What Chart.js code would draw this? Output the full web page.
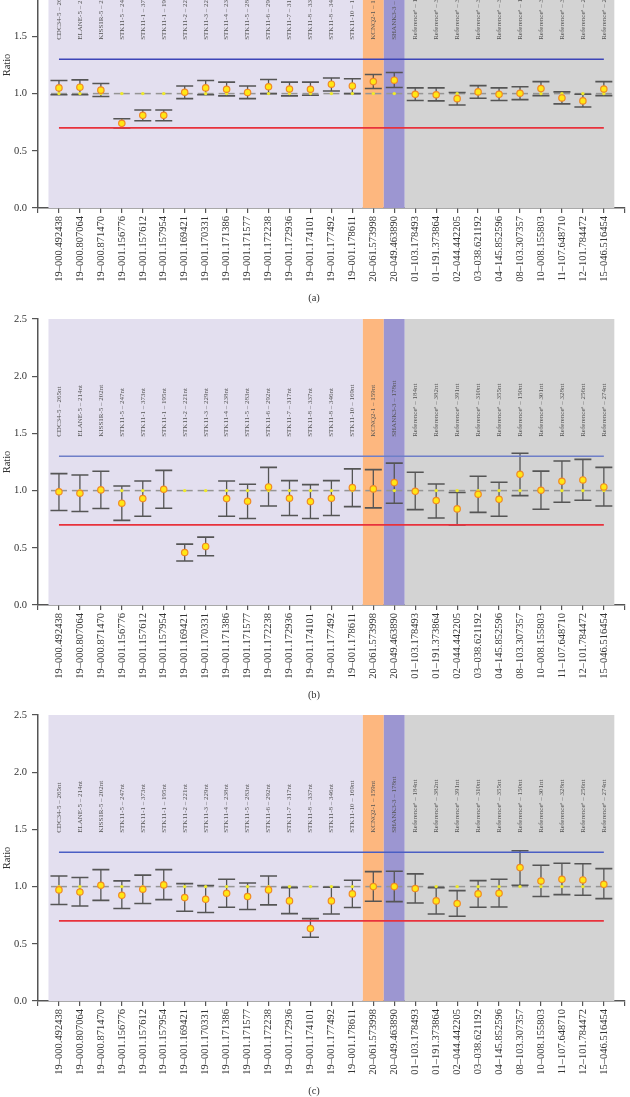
<!DOCTYPE html>
<html><head><meta charset="utf-8">
<script src="https://cdn.jsdelivr.net/npm/chart.js@4.4.0/dist/chart.umd.min.js"></script>
<style>
html,body{margin:0;padding:0;background:#fff;width:630px;height:1097px;overflow:hidden;position:relative;}
.panel{position:absolute;left:0;width:630px;}
.cap{position:absolute;font:10.5px "Liberation Serif",serif;color:#333;width:40px;text-align:center;margin-left:-20px;line-height:12px;}
</style></head><body>
<div class="panel" style="top:-90px"><canvas id="ca" width="630" height="386"></canvas></div>
<div class="panel" style="top:307px"><canvas id="cb" width="630" height="386"></canvas></div>
<div class="panel" style="top:703px"><canvas id="cc" width="630" height="386"></canvas></div>
<div class="cap" style="left:314px;top:292px">(a)</div>
<div class="cap" style="left:314px;top:689px">(b)</div>
<div class="cap" style="left:314px;top:1085px">(c)</div>
<script>
const categories = ['19–000.492438','19–000.807064','19–000.871470','19–001.156776','19–001.157612','19–001.157954','19–001.169421','19–001.170331','19–001.171386','19–001.171577','19–001.172238','19–001.172936','19–001.174101','19–001.177492','19–001.178611','20–061.573998','20–049.463890','01–103.178493','01–191.373864','02–044.442205','03–038.621192','04–145.852596','08–103.307357','10–008.155803','11–107.648710','12–101.784472','15–046.516454'];
const probeLabels = ['CDC34-5 – 265nt','ELANE-5 – 214nt','KISS1R-5 – 202nt','STK11-5 – 247nt','STK11-1 – 373nt','STK11-1 – 195nt','STK11-2 – 221nt','STK11-3 – 229nt','STK11-4 – 238nt','STK11-5 – 283nt','STK11-6 – 292nt','STK11-7 – 317nt','STK11-8 – 337nt','STK11-8 – 346nt','STK11-10 – 169nt','KCNQ2-1 – 159nt','SHANK3-3 – 178nt','Referenceᵃ – 184nt','Referenceᵃ – 382nt','Referenceᵃ – 391nt','Referenceᵃ – 310nt','Referenceᵃ – 355nt','Referenceᵃ – 150nt','Referenceᵃ – 301nt','Referenceᵃ – 328nt','Referenceᵃ – 256nt','Referenceᵃ – 274nt'];
const groupSizes = [15, 1, 1, 10];
const thresholdHigh = 1.3;
const thresholdLow = 0.7;
const controlRatio = 1.0;

const ratioA = [1.05,1.056,1.03,0.74,0.81,0.81,1.012,1.05,1.038,1.01,1.06,1.04,1.038,1.082,1.067,1.105,1.117,0.994,0.99,0.956,1.015,0.994,1.003,1.044,0.962,0.936,1.04];
const upperA = [1.114,1.12,1.088,0.78,0.857,0.857,1.067,1.114,1.10,1.067,1.123,1.10,1.10,1.137,1.13,1.167,1.184,1.05,1.05,1.01,1.07,1.05,1.06,1.105,1.015,0.994,1.105];
const lowerA = [0.99,0.99,0.974,0.70,0.763,0.763,0.956,0.99,0.98,0.956,1.0,0.98,0.985,1.023,1.0,1.044,1.053,0.94,0.936,0.90,0.96,0.94,0.947,0.982,0.91,0.883,0.982];

const ratioB = [0.99,0.977,1.006,0.89,0.93,1.012,0.459,0.512,0.93,0.907,1.032,0.933,0.904,0.933,1.026,1.015,1.07,0.994,0.913,0.84,0.968,0.924,1.142,1.003,1.081,1.093,1.032];
const upperB = [1.148,1.137,1.169,1.04,1.084,1.177,0.532,0.593,1.084,1.055,1.203,1.087,1.052,1.087,1.19,1.183,1.24,1.16,1.058,0.983,1.125,1.073,1.326,1.17,1.259,1.273,1.203];
const lowerB = [0.826,0.817,0.843,0.74,0.776,0.846,0.384,0.43,0.776,0.756,0.866,0.782,0.756,0.782,0.86,0.849,0.89,0.834,0.76,0.70,0.81,0.776,0.956,0.837,0.898,0.916,0.866];

const ratioC = [0.971,0.953,1.012,0.924,0.977,1.015,0.904,0.889,0.942,0.913,0.971,0.875,0.633,0.875,0.936,1.0,1.0,0.983,0.875,0.852,0.936,0.942,1.166,1.049,1.064,1.058,1.02];
const upperC = [1.093,1.079,1.148,1.05,1.1,1.148,1.026,1.009,1.064,1.032,1.093,0.991,0.72,0.994,1.055,1.131,1.134,1.111,0.991,0.965,1.052,1.064,1.314,1.186,1.204,1.2,1.157];
const lowerC = [0.843,0.831,0.88,0.808,0.852,0.886,0.785,0.773,0.82,0.80,0.84,0.764,0.557,0.761,0.817,0.872,0.869,0.857,0.761,0.741,0.82,0.822,1.012,0.913,0.93,0.924,0.895];

const yTickValues = [0, 0.5, 1.0, 1.5, 2.0, 2.5];

const FONT = '"Liberation Serif", "Times New Roman", serif';
const bandColors = ['#E3DFEF', '#FDB77F', '#9C96D1', '#D3D3D3'];

const decor = {
  id: 'decor',
  beforeDatasetsDraw(chart, args, o) {
    const {ctx, chartArea: a, scales: {x, y}} = chart;
    ctx.save();
    // bands
    let start = 0;
    groupSizes.forEach((n, g) => {
      const l = x.getPixelForValue(start - 0.5), r = x.getPixelForValue(start + n - 0.5);
      ctx.fillStyle = bandColors[g];
      ctx.fillRect(l, a.top, r - l, a.bottom - a.top);
      start += n;
    });
    // probe labels
    ctx.fillStyle = '#555';
    ctx.font = '7px ' + FONT;
    ctx.textAlign = 'left';
    ctx.textBaseline = 'middle';
    probeLabels.forEach((t, i) => {
      ctx.save();
      ctx.translate(x.getPixelForValue(i), y.getPixelForValue(1.47));
      ctx.rotate(-Math.PI / 2);
      ctx.fillText(t, 0, 0);
      ctx.restore();
    });
    // control segments
    ctx.strokeStyle = '#959595';
    ctx.lineWidth = 1.5;
    const yc = y.getPixelForValue(controlRatio);
    categories.forEach((c, i) => {
      const px = x.getPixelForValue(i);
      ctx.beginPath(); ctx.moveTo(px - 8, yc); ctx.lineTo(px + 8, yc); ctx.stroke();
    });
    // error bars
    ctx.strokeStyle = '#555';
    o.ratio.forEach((v, i) => {
      const px = x.getPixelForValue(i);
      const yh = y.getPixelForValue(o.upper[i]), yl = y.getPixelForValue(o.lower[i]);
      ctx.lineWidth = 1.3;
      ctx.beginPath(); ctx.moveTo(px, yh); ctx.lineTo(px, yl); ctx.stroke();
      ctx.lineWidth = 1.6;
      ctx.beginPath();
      ctx.moveTo(px - 8.5, yh); ctx.lineTo(px + 8.5, yh);
      ctx.moveTo(px - 8.5, yl); ctx.lineTo(px + 8.5, yl);
      ctx.stroke();
    });
    ctx.restore();
  }
};

function makeChart(id, ratio, upper, lower, blue) {
  const last = categories.length - 1;
  return new Chart(document.getElementById(id), {
    type: 'scatter',
    data: {
      datasets: [
        { data: ratio.map((v, i) => ({x: i, y: v})), pointRadius: 3.2, pointBackgroundColor: '#FFE714', pointBorderColor: '#F08A26', pointBorderWidth: 1.2 },
        { data: categories.map((c, i) => ({x: i, y: controlRatio})), pointRadius: 1.7, pointBackgroundColor: '#EFEA2A', pointBorderWidth: 0 },
        { data: [{x: 0, y: thresholdHigh}, {x: last, y: thresholdHigh}], showLine: true, borderColor: blue, borderWidth: 1.6, pointRadius: 0 },
        { data: [{x: 0, y: thresholdLow}, {x: last, y: thresholdLow}], showLine: true, borderColor: '#E8323C', borderWidth: 1.6, pointRadius: 0 }
      ]
    },
    options: {
      responsive: false, animation: false, devicePixelRatio: 1,
      layout: { padding: { top: 12, right: 1, left: 0, bottom: 0 } },
      plugins: { legend: { display: false }, tooltip: { enabled: false }, decor: { ratio, upper, lower } },
      scales: {
        x: {
          type: 'linear', min: -1, max: last + 1,
          afterBuildTicks: s => { s.ticks = []; for (let k = -1; k <= last + 1; k++) s.ticks.push({value: k}); },
          afterFit: s => { s.height = 88; s.paddingLeft = 0; s.paddingRight = 0; },
          ticks: { autoSkip: false, minRotation: 90, maxRotation: 90, padding: 3, color: '#333', font: { size: 10.5, family: FONT }, callback: v => categories[v] ?? '' },
          grid: { drawOnChartArea: false, drawTicks: true, tickLength: 5, color: '#555', lineWidth: 1.2 },
          border: { color: '#555', width: 1.5 }
        },
        y: {
          min: 0, max: 2.5,
          afterBuildTicks: s => { s.ticks = yTickValues.map(v => ({value: v})); },
          afterFit: s => { s.width = 38; s.paddingTop = 0; s.paddingBottom = 0; },
          ticks: { padding: 5, color: '#333', font: { size: 10.5, family: FONT }, callback: v => Number(v).toFixed(1) },
          grid: { drawOnChartArea: false, drawTicks: true, tickLength: 6, color: '#555', lineWidth: 1.2 },
          border: { color: '#555', width: 1.5 },
          title: { display: true, text: 'Ratio', color: '#333', font: { size: 10.5, family: FONT }, padding: { top: 1, bottom: 0 } }
        }
      }
    },
    plugins: [decor]
  });
}

makeChart('ca', ratioA, upperA, lowerA, '#3D45B8');
makeChart('cb', ratioB, upperB, lowerB, '#6F7FC8');
makeChart('cc', ratioC, upperC, lowerC, '#4A5EC4');
</script>
</body></html>
